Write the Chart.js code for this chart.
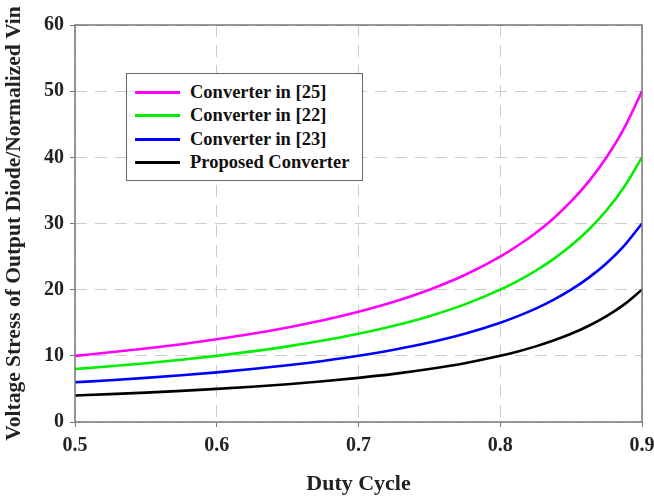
<!DOCTYPE html>
<html>
<head>
<meta charset="utf-8">
<script src="https://cdn.jsdelivr.net/npm/chart.js@4.4.1/dist/chart.umd.min.js"></script>
<style>
  html, body { margin: 0; padding: 0; background: #fff; }
  #wrap { position: relative; width: 654px; height: 501px; }
  #legend {
    position: absolute; left: 126px; top: 73px; width: 237px; height: 108px;
    border: 1.5px solid #666; background: #fff; box-sizing: border-box;
    font: bold 18.5px "Liberation Serif", "Times New Roman", serif; color: #111;
    padding: 7px 0 0 8px;
  }
  .lg-row { display: flex; align-items: center; height: 23.3px; white-space: nowrap; }
  .lg-line { width: 45px; height: 3px; margin-right: 10px; flex: none; }
</style>
</head>
<body>
<div id="wrap">
  <canvas id="c" width="654" height="501"></canvas>
  <div id="legend"></div>
</div>
<script>
const duty = [0.5, 0.525, 0.55, 0.575, 0.6, 0.625, 0.65, 0.675, 0.7, 0.725, 0.75, 0.775, 0.8, 0.8125, 0.825, 0.8375, 0.85, 0.8625, 0.875, 0.8875, 0.9];
const conv25 = [10, 10.53, 11.11, 11.76, 12.5, 13.33, 14.29, 15.38, 16.67, 18.18, 20, 22.22, 25, 26.67, 28.57, 30.77, 33.33, 36.36, 40, 44.44, 50];
const conv22 = [8, 8.42, 8.89, 9.41, 10, 10.67, 11.43, 12.31, 13.33, 14.55, 16, 17.78, 20, 21.33, 22.86, 24.62, 26.67, 29.09, 32, 35.56, 40];
const conv23 = [6, 6.32, 6.67, 7.06, 7.5, 8, 8.57, 9.23, 10, 10.91, 12, 13.33, 15, 16, 17.14, 18.46, 20, 21.82, 24, 26.67, 30];
const proposed = [4, 4.21, 4.44, 4.71, 5, 5.33, 5.71, 6.15, 6.67, 7.27, 8, 8.89, 10, 10.67, 11.43, 12.31, 13.33, 14.55, 16, 17.78, 20];

const seriesNames = ["Converter in [25]", "Converter in [22]", "Converter in [23]", "Proposed Converter"];
const seriesColors = ["#FF00FF", "#00EE00", "#0000FF", "#000000"];
const seriesData = [conv25, conv22, conv23, proposed];

const FONT = "'Liberation Serif', 'Times New Roman', serif";

// legend
document.getElementById("legend").innerHTML = seriesNames.map((n, i) => `
  <div class="lg-row"><span class="lg-line" style="background:${seriesColors[i]}"></span>${n}</div>`).join("");

const frame = {
  id: "frame",
  afterDatasetsDraw(chart) {
    const { ctx, chartArea: a } = chart;
    ctx.save();
    ctx.strokeStyle = "#777";
    ctx.lineWidth = 1.5;
    ctx.strokeRect(a.left, a.top, a.right - a.left, a.bottom - a.top);
    ctx.restore();
  },
};

const GRID = {
  color: "#cccccc",
  tickBorderDash: [],
  tickColor: "#777",
  tickLength: 5,
  lineWidth: 1,
};
const BORDER = { display: false, dash: [12, 8] };

new Chart(document.getElementById("c"), {
  type: "line",
  data: {
    datasets: seriesData.map((vals, i) => ({
      label: seriesNames[i],
      data: vals.map((v, k) => ({ x: duty[k], y: v })),
      borderColor: seriesColors[i],
      borderWidth: 2.6,
      pointRadius: 0,
      cubicInterpolationMode: "monotone",
      fill: false,
    })),
  },
  options: {
    responsive: false,
    animation: false,
    layout: { padding: { top: 25, right: 0, left: 0, bottom: 0 } },
    plugins: { legend: { display: false }, tooltip: { enabled: false } },
    scales: {
      x: {
        type: "linear",
        min: 0.5,
        max: 0.9,
        afterFit: (s) => { s.height = 79; s.paddingRight = 12; },
        ticks: {
          stepSize: 0.1,
          color: "#222",
          padding: 7,
          font: { family: FONT, size: 20, weight: "bold" },
          callback: (v) => v.toFixed(1),
        },
        grid: GRID,
        border: BORDER,
        title: {
          display: true,
          text: "Duty Cycle",
          color: "#222",
          padding: { top: 0, bottom: 3 },
          font: { family: FONT, size: 22, weight: "bold" },
        },
      },
      y: {
        min: 0,
        max: 60,
        afterFit: (s) => { s.width = 75; },
        ticks: {
          stepSize: 10,
          color: "#222",
          padding: 6,
          font: { family: FONT, size: 20, weight: "bold" },
        },
        grid: GRID,
        border: BORDER,
        title: {
          display: true,
          text: "Voltage Stress of Output Diode/Normalized Vin",
          color: "#222",
          padding: { bottom: 0, top: 2 },
          font: { family: FONT, size: 21.5, weight: "bold" },
        },
      },
    },
  },
  plugins: [frame],
});
</script>
</body>
</html>
